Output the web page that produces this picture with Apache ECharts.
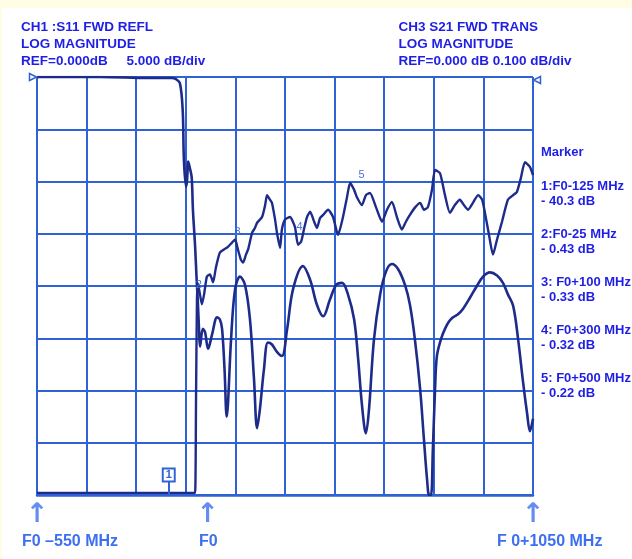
<!DOCTYPE html>
<html><head><meta charset="utf-8">
<script src="https://cdn.jsdelivr.net/npm/echarts@6/dist/echarts.min.js"></script>
<style>
html,body{margin:0;padding:0;background:#fffde3;overflow:hidden}
#paper{position:absolute;left:2px;top:8px;width:630px;height:551px;background:#ffffff}
#c{position:absolute;left:0;top:0;width:632px;height:559px}
</style></head>
<body><div id="paper"></div><div id="c"></div>
<script>
// Frequencies in MHz relative to F0; screen spans F0-550 .. F0+1050
const F_START = -550;
const F_END = 1050;
// CH1 S11 (dB, 5 dB/div, ref 0 dB at top)
const s11Freq = [-550,-347,-186,-115,-102,-89,-80,-76,-69,-66,-62,-57,-51,-47,-40,-35,-31,-27,-24,-15,-8,2,15,31,40,47,55,62,66,76,89,105,121,137,150,160,169,182,195,208,224,240,257,276,308,331,353,373,395,415,434,453,473,486,498,511,521,537,557,576,595,615,637,653,669,686,698,708,715,721,727,734,740,753,766,779,792,808,824,847,869,889,911,934,953,969,986,1002,1018,1031,1040,1050];
const s11Db = [0,0,-0.1,-0.1,-0.2,-0.6,-3.2,-8.0,-10.5,-9.9,-8.1,-8.7,-9.6,-12.7,-16.2,-19.4,-21.6,-24.4,-25.8,-24.1,-24.4,-26.0,-24.6,-23.0,-23.2,-24.1,-28.0,-32.5,-31.3,-25.1,-20.3,-19.1,-19.9,-23.2,-28.9,-33.6,-31.8,-28.0,-25.4,-25.6,-26.3,-26.7,-24.1,-20.3,-18.1,-19.4,-21.8,-22.9,-21.3,-19.9,-19.7,-20.8,-23.2,-27.0,-31.3,-34.1,-31.8,-25.1,-20.8,-18.6,-17.9,-18.4,-19.9,-21.8,-25.1,-29.9,-34.6,-38.4,-40,-40,-35.6,-29.9,-26.7,-25.1,-24.1,-23.4,-23.0,-22.7,-22.2,-21.1,-20.0,-19.1,-18.7,-19.0,-19.7,-20.8,-21.9,-25.1,-29.2,-32.2,-33.9,-32.7];
// CH3 S21 (dB, 0.1 dB/div, ref 0 dB at top) - values as displayed (clamped at screen bottom)
const s21Freq = [-550,-282,-47,-40,-37,-34,-31,-24,-18,-11,-2,8,18,27,40,53,66,79,89,98,108,115,124,131,144,153,160,176,186,192,202,208,218,224,234,240,250,266,282,292,302,311,321,331,344,353,363,373,389,405,421,437,450,460,473,482,498,511,524,544,563,579,595,611,627,640,653,669,686,698,711,724,734,750,766,782,798,814,827,840,857,873,886,895,908,921,934,950,969,986,998,1011,1024,1040,1050];
const s21Db = [-0.796,-0.796,-0.796,-0.796,-0.616,-0.426,-0.395,-0.417,-0.435,-0.416,-0.382,-0.378,-0.393,-0.365,-0.336,-0.330,-0.325,-0.317,-0.311,-0.330,-0.350,-0.355,-0.340,-0.330,-0.298,-0.289,-0.279,-0.268,-0.245,-0.226,-0.235,-0.241,-0.273,-0.298,-0.327,-0.292,-0.273,-0.268,-0.287,-0.321,-0.315,-0.292,-0.268,-0.258,-0.277,-0.289,-0.270,-0.264,-0.254,-0.268,-0.302,-0.268,-0.230,-0.203,-0.216,-0.230,-0.245,-0.226,-0.222,-0.250,-0.277,-0.254,-0.239,-0.268,-0.292,-0.277,-0.264,-0.250,-0.241,-0.254,-0.249,-0.216,-0.178,-0.184,-0.226,-0.260,-0.245,-0.235,-0.245,-0.254,-0.240,-0.226,-0.235,-0.260,-0.302,-0.340,-0.311,-0.277,-0.235,-0.226,-0.220,-0.193,-0.163,-0.172,-0.188];
// Markers
const markerNames = ['1','2','3','4','5'];
const markerFreq = [-125,-25,100,300,500];
const markerDb = [-40.3,-0.43,-0.33,-0.32,-0.22];
const markerText = ['1:F0-125 MHz','2:F0-25 MHz','3: F0+100 MHz','4: F0+300 MHz','5: F0+500 MHz'];
const markerValText = ['- 40.3 dB','- 0.43 dB','- 0.33 dB','- 0.32 dB','- 0.22 dB'];
const bottomLabels = ['F0 \u2013550 MHz','F0','F 0+1050 MHz'];
const bottomFreq = [-550,0,1050];

const S21_BOTTOM = -0.8;
const X = f => f - F_START;            // axis runs 0..1600 (F0-550 at 0)
const GRID = '#2f62d4', TRACE = '#1d2b8a', TXT = '#1e1ee6', TXT2 = '#3d6ff0';
const FONT = '"Liberation Sans", Arial, sans-serif';

const chart = echarts.init(document.getElementById('c'), null, {renderer:'canvas'});
const graphics = [];
const header = (x, lines) => lines.forEach((t,i)=>graphics.push({type:'text', left:x, top:20+i*17, style:{text:t, fill:TXT, font:'bold 13.5px '+FONT}}));
header(21, ['CH1 :S11 FWD REFL','LOG MAGNITUDE','REF=0.000dB']);
graphics.push({type:'text', left:126.5, top:54, style:{text:'5.000 dB/div', fill:TXT, font:'bold 13.5px '+FONT}});
header(398.5, ['CH3 S21 FWD TRANS','LOG MAGNITUDE','REF=0.000 dB 0.100 dB/div']);
graphics.push({type:'text', left:541, top:146, style:{text:'Marker', fill:TXT, font:'bold 13px '+FONT}});
markerText.forEach((t,i)=>{
  graphics.push({type:'text', left:541, top:179.5+i*48, style:{text:t, fill:TXT, font:'bold 13px '+FONT}});
  graphics.push({type:'text', left:541, top:195+i*48, style:{text:markerValText[i], fill:TXT, font:'bold 13px '+FONT}});
});
bottomLabels.forEach((t,i)=>{
  const lefts=[22,199,497];
  graphics.push({type:'text', left:lefts[i], top:534, style:{text:t, fill:TXT2, font:'bold 16px '+FONT}});
});

const option = {
  animation:false,
  backgroundColor:'transparent',
  grid:{left:37, right:99, top:77, bottom:64, show:false},
  xAxis:{type:'value', min:X(F_START), max:X(F_END), interval:160,
    axisLine:{show:true, onZero:false, lineStyle:{color:GRID, width:2.5}},
    axisTick:{show:false}, axisLabel:{show:false},
    splitLine:{show:true, lineStyle:{color:GRID, width:2}}},
  yAxis:[
    {type:'value', min:-40, max:0, interval:5,
     axisLine:{show:false}, axisTick:{show:false}, axisLabel:{show:false},
     splitLine:{show:true, lineStyle:{color:GRID, width:2}}},
    {type:'value', min:S21_BOTTOM, max:0, interval:0.1, position:'right',
     axisLine:{show:false}, axisTick:{show:false}, axisLabel:{show:false}, splitLine:{show:false}}
  ],
  graphic: graphics,
  series:[
    {name:'S11', type:'line', yAxisIndex:0, showSymbol:false, smooth:0.35,
     data:s11Freq.map((f,i)=>[X(f), s11Db[i]]),
     lineStyle:{color:TRACE, width:2.6},
     markPoint:{symbol:'triangle', symbolSize:[7,7], symbolRotate:-90, symbolOffset:[-4,0],
       itemStyle:{color:'#ffffff', borderColor:GRID, borderWidth:1.5}, label:{show:false},
       data:[{coord:[X(F_START),0]}]}
    },
    {name:'S21', type:'line', yAxisIndex:1, showSymbol:false, smooth:0.2,
     data:s21Freq.map((f,i)=>[X(f), s21Db[i]]),
     lineStyle:{color:TRACE, width:2.4},
     markPoint:{symbol:'circle', symbolSize:1,
       label:{show:true, color:'#4a72d8', fontSize:11, fontFamily:FONT, offset:[-1,-17]},
       itemStyle:{color:'transparent'},
       data: markerNames.slice(1).map((n,i)=>({name:n, value:n, coord:[X(markerFreq[i+1]), markerDb[i+1]]})).concat([
         {name:'1', value:'1', coord:[X(markerFreq[0]), Math.max(markerDb[0],S21_BOTTOM)],
          symbol:'rect', symbolSize:[12,13], symbolOffset:[0,-20],
          itemStyle:{color:'#ffffff', borderColor:'#2f62d4', borderWidth:2},
          label:{show:true, color:'#2f62d4', fontSize:11, fontWeight:'bold', offset:[0,0], position:'inside'}},
         {name:'ref', value:'', coord:[X(F_END),0], symbol:'triangle', symbolSize:[7,7], symbolRotate:90, symbolOffset:[4,3],
          itemStyle:{color:'#ffffff', borderColor:GRID, borderWidth:1.5}, label:{show:false}}
       ])},
     markLine:{symbol:'none', silent:true, label:{show:false}, lineStyle:{color:'#2f62d4', width:2, type:'solid'},
       data:[[{coord:[X(markerFreq[0]), S21_BOTTOM]},{coord:[X(markerFreq[0]), S21_BOTTOM+0.028]}]]}
    },
    {name:'bottom', type:'scatter', yAxisIndex:1, symbolSize:0, silent:true,
     data: bottomFreq.map(f=>[X(f), S21_BOTTOM]),
     label:{show:true, position:'bottom', distance:6, formatter:'\u2191', color:TXT2, fontSize:27, fontWeight:'bold', fontFamily:'"DejaVu Sans"'}
    }
  ]
};
chart.setOption(option);
</script></body></html>
